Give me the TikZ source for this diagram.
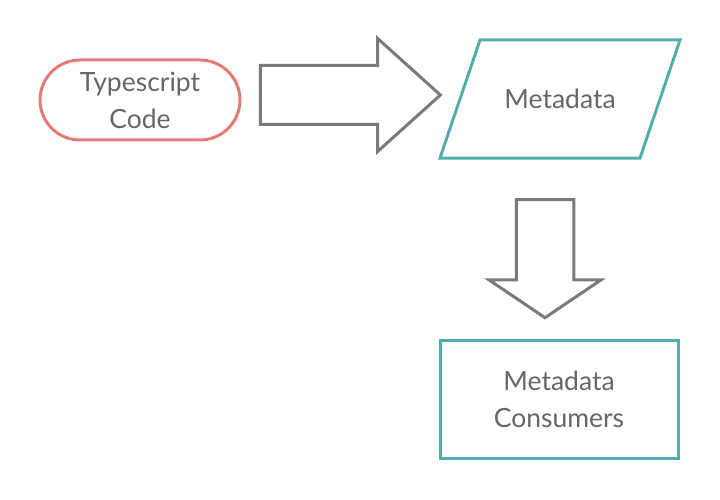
\documentclass[tikz,border=0pt]{standalone}
\usepackage{fontspec}
\setmainfont{Lato}
\usepackage{xcolor}
\usetikzlibrary{shapes.misc,shapes.arrows}
\definecolor{pinkline}{HTML}{E57A77}
\definecolor{tealline}{HTML}{52AEAC}
\definecolor{arrowgray}{HTML}{7A7A7A}
\definecolor{textgray}{HTML}{666666}
\tikzset{
  box/.style={line width=3pt, align=center, text=textgray, outer sep=0pt,
              font=\fontsize{26.5}{37}\selectfont, inner sep=0pt},
  source/.style={box, draw, rounded rectangle, draw=pinkline,
                 minimum width=200pt, minimum height=80pt},
  data/.style={box, rectangle, minimum width=200pt, minimum height=118pt},
  sink/.style={box, draw, rectangle, draw=tealline,
               minimum width=238pt, minimum height=118pt},
  bigarrow/.style={draw=arrowgray, line width=3pt, single arrow,
                   single arrow head extend=27pt}
}

\begin{document}
\begin{tikzpicture}[x=1pt, y=-1pt]
  \useasboundingbox (0,0) rectangle (720,500);

  \node[source] (code) at (140,100) {Typescript\\Code};
  \node[data] (meta) at (560,99) {Metadata};
  \node[sink] (cons) at (559,399) {Metadata\\Consumers};

  % slanted outline of the data node
  \draw[tealline, line width=3pt]
    ([xshift=20pt]meta.north west) -- ([xshift=20pt]meta.north east)
    -- ([xshift=-20pt]meta.south east) -- ([xshift=-20pt]meta.south west) -- cycle;

  \node[bigarrow, inner sep=28pt, minimum width=110pt, minimum height=180pt,
        single arrow tip angle=84] (toMeta) at (334,95) {};
  \node[bigarrow, inner sep=27pt, minimum width=112pt, minimum height=118pt,
        single arrow tip angle=112, shape border rotate=270] (toCons) at (545,249) {};
\end{tikzpicture}
\end{document}
